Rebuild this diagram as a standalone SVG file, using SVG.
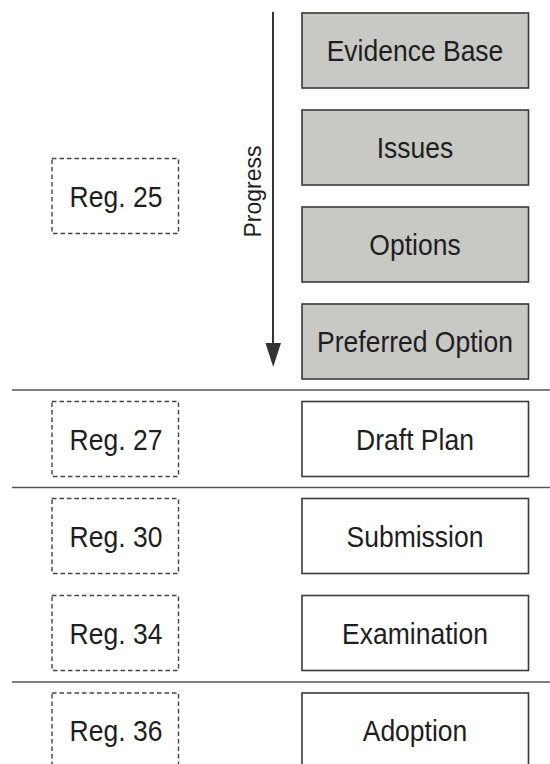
<svg xmlns="http://www.w3.org/2000/svg" width="550" height="764" viewBox="0 0 550 764">
<style>
text{font-family:"Liberation Sans",Arial,sans-serif;fill:#1e1e1e;}
.lbl{font-size:26.5px;text-anchor:middle;}
.stage{stroke:#3a3a3a;stroke-width:1.6;}
.grey{fill:#c8c8c5;}
.white{fill:#fff;}
.reg{fill:none;stroke:#444;stroke-width:1.4;stroke-dasharray:4.5 3;}
.sep{stroke:#555;stroke-width:1.6;}
</style>
<rect width="550" height="764" fill="#fff"/>
<g id="separators">
<line class="sep" x1="12" y1="390" x2="550" y2="390"/>
<line class="sep" x1="12" y1="487.5" x2="550" y2="487.5"/>
<line class="sep" x1="12" y1="682" x2="550" y2="682"/>
</g>
<g id="connectors">
<line x1="273" y1="12" x2="273" y2="345" stroke="#333" stroke-width="2"/>
<polygon points="265.5,343 281,343 273.2,367" fill="#333"/>
</g>
<g id="progress"><text x="0" y="0" font-size="23" text-anchor="middle" transform="translate(261,191.5) rotate(-90) scale(1,1.05)">Progress</text></g>
<g id="evidence"><rect class="stage grey" x="302" y="13" width="226.5" height="75"/><text class="lbl" transform="translate(415,61) scale(1,1.1)">Evidence Base</text></g>
<g id="issues"><rect class="stage grey" x="302" y="110" width="226.5" height="75"/><text class="lbl" transform="translate(415,158) scale(1,1.1)">Issues</text></g>
<g id="options"><rect class="stage grey" x="302" y="207" width="226.5" height="75"/><text class="lbl" transform="translate(415,255) scale(1,1.1)">Options</text></g>
<g id="preferred"><rect class="stage grey" x="302" y="304" width="226.5" height="75"/><text class="lbl" transform="translate(415,352) scale(1,1.1)">Preferred Option</text></g>
<g id="draft"><rect class="stage white" x="302" y="401.5" width="226.5" height="75"/><text class="lbl" transform="translate(415,449.5) scale(1,1.1)">Draft Plan</text></g>
<g id="submission"><rect class="stage white" x="302" y="498.5" width="226.5" height="75"/><text class="lbl" transform="translate(415,546.5) scale(1,1.1)">Submission</text></g>
<g id="examination"><rect class="stage white" x="302" y="595.5" width="226.5" height="75"/><text class="lbl" transform="translate(415,643.5) scale(1,1.1)">Examination</text></g>
<g id="adoption"><rect class="stage white" x="302" y="693" width="226.5" height="75"/><text class="lbl" transform="translate(415,741) scale(1,1.1)">Adoption</text></g>
<g id="reg25"><rect class="reg" x="52" y="158.5" width="126.5" height="75"/><text class="lbl" transform="translate(116,206.5) scale(1,1.1)">Reg. 25</text></g>
<g id="reg27"><rect class="reg" x="52" y="401.5" width="126.5" height="75"/><text class="lbl" transform="translate(116,449.5) scale(1,1.1)">Reg. 27</text></g>
<g id="reg30"><rect class="reg" x="52" y="498.5" width="126.5" height="75"/><text class="lbl" transform="translate(116,546.5) scale(1,1.1)">Reg. 30</text></g>
<g id="reg34"><rect class="reg" x="52" y="595.5" width="126.5" height="75"/><text class="lbl" transform="translate(116,643.5) scale(1,1.1)">Reg. 34</text></g>
<g id="reg36"><rect class="reg" x="52" y="693" width="126.5" height="75"/><text class="lbl" transform="translate(116,741) scale(1,1.1)">Reg. 36</text></g>
</svg>
